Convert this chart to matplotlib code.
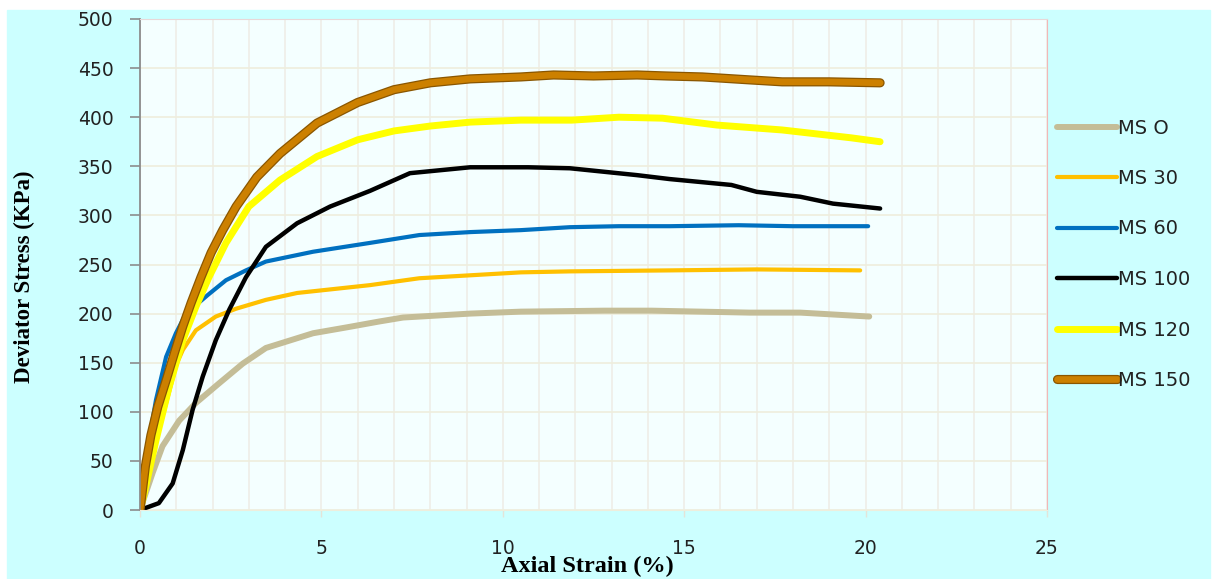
import numpy as np
import matplotlib
matplotlib.use("Agg")
import matplotlib.pyplot as plt
import matplotlib.patheffects as pe
from matplotlib.patches import Rectangle
from matplotlib.ticker import MultipleLocator

# axial strain (%) / deviator stress (kPa) for each mix
ms0_strain = [0, 0.35, 0.62, 1.08, 1.54, 2.18, 2.83, 3.47, 4.77, 5.7, 6.6, 7.25, 9.1, 10.5, 12.8, 14.1, 16.8, 18.2, 20.1]
ms0_stress = [0, 38, 65, 91, 109, 129, 149, 165, 180, 186, 192, 196, 200, 202, 203, 203, 201, 201, 197]

ms30_strain = [0, 0.1, 0.44, 0.8, 1.0, 1.18, 1.54, 2.09, 2.65, 3.47, 4.33, 6.34, 7.7, 9.1, 10.5, 11.85, 14.6, 17.0, 19.85]
ms30_stress = [0, 12, 71, 120, 148, 163, 183, 197, 205, 214, 221, 229, 236, 239, 242, 243, 244, 245, 244]

ms60_strain = [0, 0.17, 0.44, 0.72, 0.99, 1.27, 1.87, 2.37, 2.92, 3.47, 4.77, 6.34, 7.7, 9.1, 10.5, 11.85, 13.2, 14.6, 16.5, 18.0, 20.07]
ms60_stress = [0, 54, 112, 156, 180, 200, 219, 234, 244, 253, 263, 272, 280, 283, 285, 288, 289, 289, 290, 289, 289]

ms100_strain = [0, 0.52, 0.9, 1.18, 1.45, 1.73, 2.09, 2.46, 2.92, 3.47, 4.33, 5.24, 6.34, 7.44, 9.1, 10.7, 11.85, 13.7, 14.6, 16.3, 17.0, 18.2, 19.1, 20.4]
ms100_stress = [0, 7, 27, 61, 102, 136, 173, 204, 237, 268, 292, 309, 325, 343, 349, 349, 348, 341, 337, 331, 324, 319, 312, 307]

ms120_strain = [0, 0.1, 0.44, 0.8, 1.18, 1.54, 1.9, 2.37, 3.0, 3.86, 4.88, 6.0, 7.0, 8.0, 9.1, 10.5, 11.9, 13.2, 14.4, 15.9, 17.7, 19.6, 20.4]
ms120_stress = [0, 14, 71, 125, 173, 207, 237, 272, 309, 336, 360, 377, 386, 391, 395, 397, 397, 400, 399, 392, 387, 379, 375]

ms150_strain = [0, 0.15, 0.3, 0.49, 0.72, 0.95, 1.18, 1.41, 1.68, 1.96, 2.28, 2.65, 3.22, 3.86, 4.88, 6.0, 7.0, 8.0, 9.1, 10.5, 11.4, 12.5, 13.7, 14.5, 15.5, 16.8, 17.7, 19.0, 20.4]
ms150_stress = [0, 45, 76, 105, 132, 160, 187, 211, 237, 262, 285, 309, 339, 363, 394, 415, 428, 435, 439, 441, 443, 442, 443, 442, 441, 438, 436, 436, 435]

labels = ["MS O", "MS 30", "MS 60", "MS 100", "MS 120", "MS 150"]
colors = ["#C4BD97", "#FFC000", "#0070C0", "#000000", "#FFFF00", "#CC8000"]
widths = [4.3, 3.0, 3.0, 3.2, 5.0, 4.8]

series = [(ms0_strain, ms0_stress), (ms30_strain, ms30_stress), (ms60_strain, ms60_stress),
          (ms100_strain, ms100_stress), (ms120_strain, ms120_stress), (ms150_strain, ms150_stress)]

fig = plt.figure(figsize=(12.19, 5.79), dpi=100, facecolor="white")
fig.patches.append(Rectangle((7 / 1219, 0), 1203 / 1219, 1 - 10 / 579,
                             transform=fig.transFigure, color="#CCFFFF", zorder=-10))

ax = fig.add_axes([140 / 1219, 1 - 510 / 579, 907 / 1219, 491 / 579])
ax.set_facecolor("#F4FFFF")

for (x, y), lab, c, lw in zip(series, labels, colors, widths):
    line, = ax.plot(x, y, color=c, lw=lw, label=lab,
                    solid_capstyle="round", solid_joinstyle="round")
    if lab == "MS 150":
        line.set_path_effects([pe.Stroke(linewidth=lw + 1.8, foreground="#8A5600"), pe.Normal()])

ax.set_xlim(0, 25)
ax.set_ylim(0, 500)
ax.xaxis.set_major_locator(MultipleLocator(5))
ax.xaxis.set_minor_locator(MultipleLocator(1))
ax.yaxis.set_major_locator(MultipleLocator(50))
ax.grid(True, which="both", axis="x", color="#EEEEE8", lw=1.2)
ax.grid(True, which="major", axis="y", color="#EEEEDD", lw=1.2)
ax.set_axisbelow(True)

ax.spines["left"].set_color("#8C8C8C")
ax.spines["left"].set_linewidth(1.3)
ax.spines["bottom"].set_color("#EEEEDD")
ax.spines["top"].set_color("#E8D8D8")
ax.spines["right"].set_color("#F0B8B8")

ax.tick_params(axis="y", which="major", length=7, width=1.2, color="#8C8C8C",
               pad=12, labelsize=13.5, labelcolor="#222222")
ax.tick_params(axis="x", which="major", length=5, width=1.0, color="#E4E4D8",
               pad=16, labelsize=13.5, labelcolor="#222222")
ax.tick_params(axis="x", which="minor", length=0)

ax.set_xlabel("Axial Strain (%)", family="Liberation Serif", weight="bold", fontsize=17.5)
ax.set_ylabel("Deviator Stress (KPa)", family="Liberation Serif", weight="bold", fontsize=16.5)
ax.xaxis.set_label_coords(0.493, -0.093)
ax.yaxis.set_label_coords(-0.116, 0.4745)

fig.legend(loc="upper left", bbox_to_anchor=(1039 / 1219, 1 - 101 / 579), frameon=False,
           fontsize=14, handlelength=3.1, handletextpad=0.05, labelspacing=1.62,
           labelcolor="#222222")

fig.savefig("out.png", dpi=100, facecolor=fig.get_facecolor())
